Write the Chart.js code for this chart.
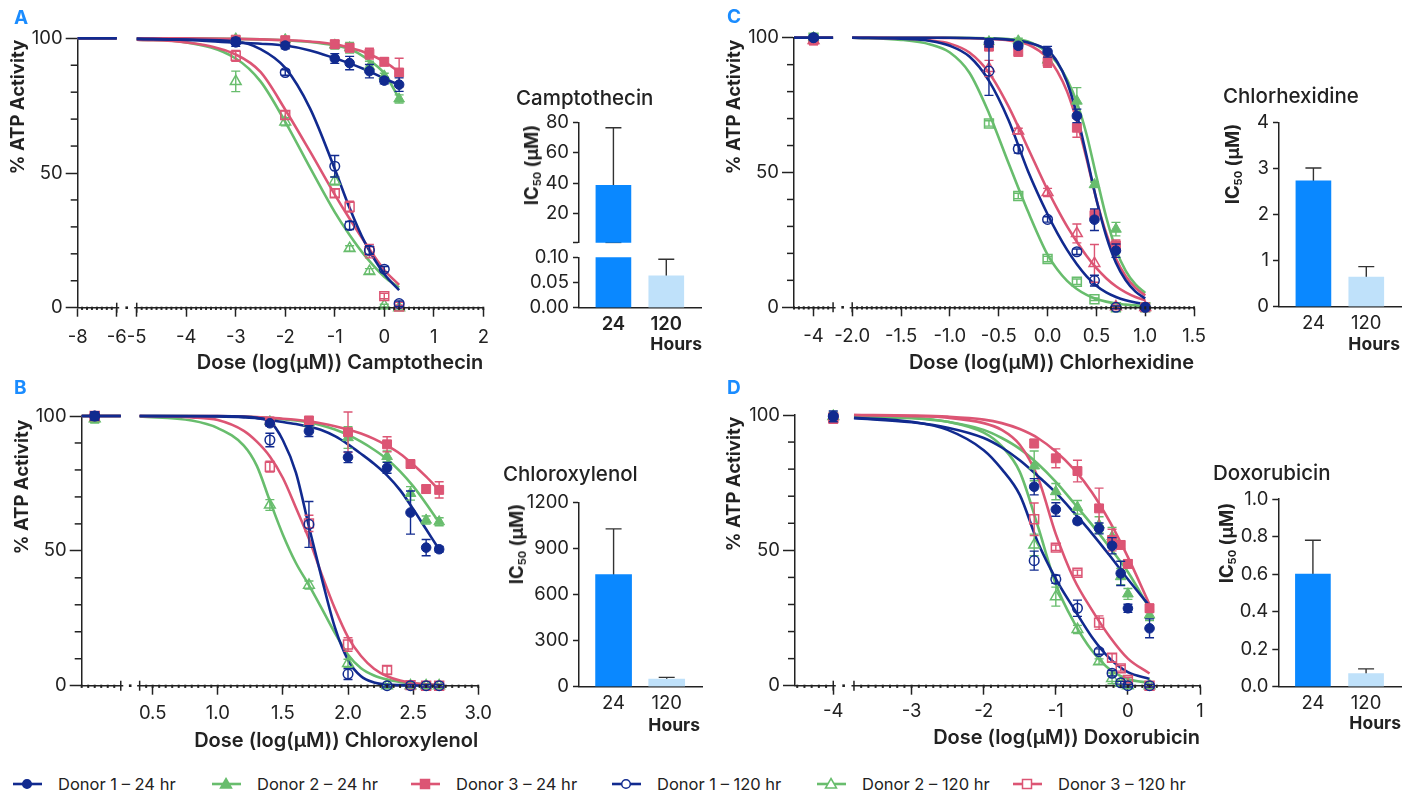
<!DOCTYPE html>
<html>
<head>
<meta charset="utf-8">
<script src="https://cdn.jsdelivr.net/npm/chart.js@4.4.1/dist/chart.umd.min.js"></script>
<style>
  html, body { margin: 0; padding: 0; background: #fff; }
  body { width: 1416px; height: 795px; position: relative; overflow: hidden;
         font-family: Inter, 'DejaVu Sans', sans-serif; color: #222; }
  canvas { position: absolute; }
  .t { position: absolute; white-space: nowrap; z-index: 2; }
  .letter { font-weight: 700; font-size: 19px; color: #1a8cff; }
  .ytitle { transform: translate(-50%, -50%) rotate(-90deg); font-weight: 700; font-size: 18.5px; }
  .btitle { transform: translateY(-50%); font-size: 20.5px; font-weight: 500; }
  .hours { transform: translate(-100%, -50%); font-size: 17.5px; font-weight: 700; }
  .ic sub { font-size: 11px; vertical-align: -3px; }
  .legend { position: absolute; top: 774px; left: 0; height: 20px; }
  .legend .item { position: absolute; top: 0; display: flex; align-items: center; font-size: 16.5px;
                  height: 20px; white-space: nowrap; }
  .legend svg { margin-right: 16px; flex-shrink: 0; }
</style>
</head>
<body>

<div class="t letter" style="left:14px;top:6px">A</div>
<div class="t letter" style="left:727px;top:5px">C</div>
<div class="t letter" style="left:14px;top:376px">B</div>
<div class="t letter" style="left:727px;top:376px">D</div>

<div class="t ytitle" style="left:17px;top:107px">% ATP Activity</div>
<div class="t ytitle" style="left:733px;top:107px">% ATP Activity</div>
<div class="t ytitle" style="left:21px;top:487px">% ATP Activity</div>
<div class="t ytitle" style="left:733px;top:484px">% ATP Activity</div>

<div class="t btitle" style="left:516px;top:97px">Camptothecin</div>
<div class="t btitle" style="left:1223px;top:95px">Chlorhexidine</div>
<div class="t btitle" style="left:503px;top:473px">Chloroxylenol</div>
<div class="t btitle" style="left:1213px;top:472px">Doxorubicin</div>

<div class="t ytitle ic" style="left:532px;top:165px">IC<sub>50</sub> (µM)</div>
<div class="t ytitle ic" style="left:1233px;top:164px">IC<sub>50</sub> (µM)</div>
<div class="t ytitle ic" style="left:517px;top:544px">IC<sub>50</sub> (µM)</div>
<div class="t ytitle ic" style="left:1227px;top:543px">IC<sub>50</sub> (µM)</div>

<div class="t hours" style="left:702px;top:343px">Hours</div>
<div class="t hours" style="left:1400px;top:343px">Hours</div>
<div class="t hours" style="left:700px;top:724px">Hours</div>
<div class="t hours" style="left:1401px;top:722px">Hours</div>

<div class="legend" id="legend"></div>

<script>
// ---- series (legend order) ----
const seriesLabels = ['Donor 1 – 24 hr', 'Donor 2 – 24 hr', 'Donor 3 – 24 hr',
                      'Donor 1 – 120 hr', 'Donor 2 – 120 hr', 'Donor 3 – 120 hr'];

// ---- A: Camptothecin ----
const doseA = [-3, -2, -1, -0.7, -0.3, 0, 0.3];
const meanA = [
  [98.5, 97.3, 92.5, 90.8, 87.8, 84.3, 82.8],
  [99.8, 99.5, 97.5, 96.5, 89.5, 86, 77.5],
  [99.5, 99.3, 97.8, 96.5, 94.3, 91.3, 87.3],
  [98.8, 87.3, 52.5, 30.5, 21.3, 14.3, 1.5],
  [84, 69, 47, 22, 13.5, 0.8, 0],
  [93.5, 71.5, 42.5, 37.5, 21, 4.3, 0.4]
];
const errA = [
  [1.5, 1.2, 1.8, 2.5, 2.5, 1.2, 2.5],
  [1, 1, 1.5, 2, 2, 1, 1.5],
  [1, 1, 1.5, 1.5, 2, 1.5, 5.3],
  [1, 1, 4, 1.5, 1.5, 1, 1],
  [3.8, 1.5, 1.5, 1, 1, 0.5, 0.5],
  [2, 1.5, 1.5, 2, 2.5, 1, 0.5]
];
const fitXA = [-5, -4, -3, -2.5, -2, -1.5, -1, -0.7, -0.4, 0, 0.3];
const fitA = [
  [99.8, 99.4, 98.4, 98, 97.3, 95.5, 92.6, 90.7, 88.5, 85.1, 82.7],
  [100, 100, 99.8, 99.6, 99.3, 98.6, 97.3, 96, 93, 87, 77.7],
  [100, 100, 99.8, 99.6, 99.3, 98.8, 97.8, 96.5, 94.8, 91.3, 87.5],
  [99.8, 99.5, 98.8, 96, 89, 74, 51.5, 37, 24.5, 12.5, 6.5],
  [99.5, 98.5, 92.5, 84, 69, 52, 35.5, 27, 19.5, 11.5, 7.5],
  [99.5, 98.5, 94, 87.5, 73.5, 58, 42, 33, 24.5, 14, 8.5]
];
const flatA = [-8, -6];
const xTicksA = [-8, -6, -5, -4, -3, -2, -1, 0, 1, 2];
const xLabelsA = ['-8', '-6', '-5', '-4', '-3', '-2', '-1', '0', '1', '2'];

// ---- B: Chloroxylenol ----
const doseB = [0.1, 1.4, 1.7, 2.0, 2.3, 2.48, 2.6, 2.7];
const meanB = [
  [100, 97.3, 94.4, 84.7, 80.8, 64.2, 51.2, 50.6],
  [99, 97.9, 97.5, 92, 85, 71.3, 61.4, 60.8],
  [100, 98, 98.3, 94, 89.5, 82.2, 72.9, 72.6],
  [100, 91.1, 59.8, 4.3, 0, 0, 0, 0],
  [99, 67, 37.3, 8.3, 0, 0, 0, 0],
  [100, 81.2, 60.2, 15.3, 5.8, 0.2, 0, 0]
];
const errB = [
  [1.5, 1, 2, 2, 2, 8, 3, 1],
  [1.5, 1, 2, 4, 2, 2.5, 1.5, 1.5],
  [1, 1, 1.5, 7.5, 2.8, 1.5, 1.5, 3],
  [1.5, 2.5, 8.5, 2, 0.5, 0.5, 0.5, 0.5],
  [1.5, 2, 1.5, 1.5, 0.5, 0.5, 0.5, 0.5],
  [1, 2, 3, 2.5, 1.5, 0.5, 0.5, 0.5]
];
const fitXB = [0.4, 0.8, 1.0, 1.2, 1.3, 1.4, 1.5, 1.6, 1.7, 1.8, 1.9, 2.0, 2.1, 2.2, 2.3, 2.4, 2.5, 2.6, 2.7];
const fitB = [
  [100, 99.9, 99.8, 99.5, 99.2, 98.5, 97.8, 97, 96, 94.7, 92.5, 89.5, 86, 82.3, 78, 72.5, 65.5, 58, 50.5],
  [100, 100, 99.9, 99.7, 99.5, 99.2, 98.8, 98.3, 97.6, 96.5, 95, 93, 90.5, 87.5, 84, 79.5, 74, 67.5, 60.5],
  [100, 100, 100, 99.8, 99.6, 99.3, 99, 98.6, 98, 97.2, 96.2, 95, 93.5, 91.5, 89, 86, 82, 77.5, 72.5],
  [100, 100, 100, 99.8, 99.3, 98, 91, 79, 59, 39.5, 21.5, 9.5, 3.5, 1.2, 0.4, 0.2, 0.1, 0, 0],
  [99.8, 98.3, 95.5, 89, 81.5, 68.5, 56, 45.5, 37.3, 28.5, 19.5, 11.5, 6.5, 3.8, 2.3, 1.4, 0.8, 0.5, 0.3],
  [100, 99.5, 98.5, 94.5, 90.5, 85, 77, 66, 54.5, 41, 28.5, 18, 11, 6.3, 3.5, 1.9, 1, 0.5, 0.3]
];
const flatB = [0, 0.3];
const xTicksB = [0.5, 1.0, 1.5, 2.0, 2.5, 3.0];
const xLabelsB = ['0.5', '1.0', '1.5', '2.0', '2.5', '3.0'];

// ---- C: Chlorhexidine ----
const doseC = [-4, -0.6, -0.3, 0, 0.3, 0.48, 0.7, 1.0];
const meanC = [
  [100, 98.1, 97, 94.8, 71, 32.5, 21, 0],
  [100, 98.5, 98.8, 91.7, 76.5, 45.5, 29, 0],
  [99, 96.7, 94.7, 91, 66.6, 34.2, 23, 0],
  [100, 87.6, 58.7, 32.6, 20.6, 9.9, 0, 0],
  [100, 68.2, 41.3, 17.9, 9.5, 3, 0, 0],
  [99, 88.6, 65.4, 42.6, 27.4, 16.3, 0.2, 0]
];
const errC = [
  [1, 1.5, 1, 2, 2.5, 4, 2.5, 0.5],
  [1, 1.5, 1, 2, 5, 1, 2.5, 0.5],
  [1.5, 1.5, 1, 2, 3.5, 2, 2, 0.5],
  [0.5, 9, 1.5, 1, 1, 2, 0.5, 0.5],
  [0.5, 1, 1, 1, 1, 0.5, 0.5, 0.5],
  [1.5, 3, 1, 1.5, 3.5, 7, 0.5, 0.5]
];
const fitXC = [-2, -1.5, -1.2, -1, -0.8, -0.6, -0.4, -0.2, 0, 0.1, 0.2, 0.3, 0.4, 0.5, 0.6, 0.7, 0.8, 0.9, 1.0];
const fitC = [
  [100, 100, 100, 100, 99.9, 99.7, 99.3, 98.2, 95.3, 91, 83.5, 71.5, 56, 40, 26.5, 16.5, 10, 5.8, 3.3],
  [100, 100, 100, 100, 99.9, 99.8, 99.5, 98.6, 94.5, 90.5, 84.5, 76, 64, 48.5, 33.5, 21.5, 13.5, 8.5, 5.3],
  [100, 100, 100, 99.9, 99.8, 99.5, 99, 97.5, 92.5, 87.5, 80, 69, 55, 40, 27.5, 18, 11.5, 7.2, 4.4],
  [100, 99.6, 98.8, 97, 93, 84, 69.5, 50.5, 34.5, 27.5, 21.3, 16, 11.5, 8, 5.5, 3.8, 2.6, 1.8, 1.2],
  [100, 99.2, 97.5, 94.5, 87, 72, 53.5, 35.5, 19.5, 14, 9.8, 6.8, 4.6, 3.1, 2.1, 1.4, 1, 0.7, 0.5],
  [100, 99.7, 99, 97.8, 94.5, 87, 74.5, 59, 43.5, 36.5, 30, 24.3, 19, 14.5, 10.8, 7.8, 5.5, 3.8, 2.6]
];
const flatC = [-5, -3];
const xTicksC = [-4, -2, -1.5, -1, -0.5, 0, 0.5, 1, 1.5];
const xLabelsC = ['-4', '-2.0', '-1.5', '-1.0', '-0.5', '0.0', '0.5', '1.0', '1.5'];

// ---- D: Doxorubicin ----
const doseD = [-4, -1.3, -1, -0.7, -0.4, -0.22, -0.1, 0, 0.3];
const meanD = [
  [99.5, 73.5, 65.1, 60.8, 58.1, 51.7, 41.5, 28.6, 21.2],
  [99.5, 81.2, 71.7, 65.9, 59.4, 55, 40.3, 33.9, 26.1],
  [98.5, 89.5, 84, 79.3, 65.5, 53.8, 52, 45, 28.6],
  [99.5, 46.2, 39.3, 28.6, 12.6, 4.6, 1.1, 0, 0],
  [99.5, 52, 32.9, 20.8, 8.9, 2.7, 0.9, 0, 0],
  [99, 61.5, 51, 41.7, 23.3, 10.3, 6.4, 2.1, 0]
];
const errD = [
  [2, 3, 2.5, 1, 2, 3, 4.5, 1.5, 3.5],
  [1.5, 5.5, 3, 2.5, 3, 3.5, 3, 2, 2],
  [1.5, 1.5, 3.5, 4, 7.5, 4, 1.5, 1.5, 1.5],
  [1, 3.5, 1.5, 3, 1, 1, 0.5, 0.5, 0.5],
  [1, 4, 3.5, 1.5, 1, 2, 1, 0.5, 0.5],
  [1.5, 6, 1, 1, 2.5, 1.5, 1, 1, 0.5]
];
const fitXD = [-3.8, -3, -2.5, -2, -1.75, -1.5, -1.25, -1, -0.75, -0.5, -0.25, 0, 0.3];
const fitD = [
  [98.8, 97.3, 95.3, 91.5, 88, 83.3, 77.5, 71.3, 64, 56.3, 48, 39.3, 29.5],
  [99.5, 98.8, 97.5, 94.5, 91.5, 87.5, 82, 75.3, 67.5, 59.5, 51, 42, 28.5],
  [100, 99.8, 99.4, 98.3, 97, 94.8, 91.5, 86.5, 80, 71.5, 60.5, 47.5, 30],
  [99, 97.5, 94.5, 87, 80, 70.5, 53, 39.5, 28.5, 18, 10, 5, 2.5],
  [99.5, 99, 97.5, 93.5, 88.5, 79, 59, 37.5, 23.5, 13, 6, 2.5, 1],
  [100, 99.6, 99, 97, 94.5, 89, 77, 56, 39.5, 28, 18, 10, 4.5]
];
const xTicksD = [-4, -3, -2, -1, 0, 1];
const xLabelsD = ['-4', '-3', '-2', '-1', '0', '1'];

const yTicksCurve = [0, 50, 100];
const plateau = 100;

// ---- IC50 bars (24 hr, 120 hr) ----
const hourLabels = ['24', '120'];
const ic50A = [38.7, 0.063], ic50ErrA = [37.7, 0.033];
const ic50B = [730, 50],     ic50ErrB = [297, 11];
const ic50C = [2.73, 0.64],  ic50ErrC = [0.28, 0.23];
const ic50D = [0.60, 0.07],  ic50ErrD = [0.18, 0.025];
const barTicksAhi = [1, 20, 40, 60, 80],  barLabelsAhi = ['', '20', '40', '60', '80'];
const barTicksAlo = [0, 0.05, 0.1],       barLabelsAlo = ['0.00', '0.05', '0.10'];
const barTicksB = [0, 300, 600, 900, 1200], barLabelsB = ['0', '300', '600', '900', '1200'];
const barTicksC = [0, 1, 2, 3, 4],          barLabelsC = ['0', '1', '2', '3', '4'];
const barTicksD = [0, 0.2, 0.4, 0.6, 0.8, 1.0], barLabelsD = ['0.0', '0.2', '0.4', '0.6', '0.8', '1.0'];

// ---- styles ----
const NAVY = '#112a8f', GREEN = '#68bd6d', PINK = '#dc5574';
const BAR24 = '#0a88ff', BAR120 = '#bfe1fa', INK = '#222';
const seriesColor = [NAVY, GREEN, PINK, NAVY, GREEN, PINK];
const seriesShape = ['circle', 'triangle', 'rect', 'circle', 'triangle', 'rect'];
const seriesOpen  = [false, false, false, true, true, true];
const seriesOrder = [0, 4, 2, 1, 5, 3];
const shapeRadius = { circle: 4.8, triangle: 6.2, rect: 6.3 };
const TICK_FONT = 18.5;

Chart.defaults.font.family = "Inter, 'DejaVu Sans', sans-serif";
Chart.defaults.color = INK;
Chart.defaults.animation = false;

// error bars drawn just under each dataset's marks
const errorBars = {
  id: 'errorBars',
  beforeDatasetDraw(chart, args, opts) {
    const ds = chart.data.datasets[args.index];
    if (!ds.errors) return;
    const { ctx, chartArea: a } = chart;
    const ys = chart.scales.y;
    ctx.save();
    if (opts.clip) {
      ctx.beginPath();
      ctx.rect(a.left - 20, a.top - 1, a.width + 40, a.height + 1.5);
      ctx.clip();
    }
    ctx.strokeStyle = opts.color || ds.borderColor;
    ctx.lineWidth = opts.width || 1.4;
    args.meta.data.forEach((el, i) => {
      const e = ds.errors[i];
      if (!e) return;
      const v = ds.data[i].y;
      if (opts.clip && (v + e < ys.min || v - e > ys.max)) return;
      const hi = ys.getPixelForValue(v + e), lo = ys.getPixelForValue(v - e);
      const c = opts.cap || 4.5;
      ctx.beginPath();
      ctx.moveTo(el.x, hi); ctx.lineTo(el.x, lo);
      ctx.moveTo(el.x - c, hi); ctx.lineTo(el.x + c, hi);
      ctx.moveTo(el.x - c, lo); ctx.lineTo(el.x + c, lo);
      ctx.stroke();
    });
    ctx.restore();
  }
};

// minor ticks + axis break marks on the dose axis
const axisDecor = {
  id: 'axisDecor',
  afterDraw(chart, args, o) {
    if (!o || !o.on) return;
    const { ctx, chartArea: a } = chart;
    const xs = chart.scales.x, ys = chart.scales.y;
    ctx.save();
    ctx.strokeStyle = INK; ctx.fillStyle = INK; ctx.lineWidth = 1.5;
    for (let v = 10; v < 100; v += 10) {
      if (v === 50) continue;
      const py = ys.getPixelForValue(v);
      ctx.beginPath(); ctx.moveTo(a.left - 7, py); ctx.lineTo(a.left, py); ctx.stroke();
    }
    const pxL = xs.getPixelForValue(o.left), pxR = xs.getPixelForValue(o.right);
    for (let i = 1; o.right + i * o.step <= xs.max + 1e-9; i++) {
      const px = xs.getPixelForValue(o.right + i * o.step);
      ctx.fillRect(px - 1, a.bottom - 1, 2, 3.2);
    }
    for (let i = 1; o.left - i * o.step >= xs.min - 1e-9; i++) {
      const px = xs.getPixelForValue(o.left - i * o.step);
      ctx.fillRect(px - 1, a.bottom - 1, 2, 3.2);
    }
    ctx.fillStyle = '#fff';
    ctx.fillRect(pxL + 2.5, a.bottom - 2, pxR - pxL - 5, 4);
    ctx.fillStyle = INK;
    [pxL, pxR].forEach(px => {
      ctx.beginPath(); ctx.moveTo(px, a.bottom - 5); ctx.lineTo(px, a.bottom + 5); ctx.stroke();
    });
    const mid = (pxL + pxR) / 2;
    ctx.fillRect(mid - 1.3, a.bottom - 1.3, 2.6, 2.6);
    ctx.restore();
  }
};

function addCanvas(left, top, w, h) {
  const cv = document.createElement('canvas');
  cv.width = w; cv.height = h;
  cv.style.left = left + 'px'; cv.style.top = top + 'px';
  cv.style.width = w + 'px'; cv.style.height = h + 'px';
  document.body.appendChild(cv);
  return cv;
}

function curveChart(p) {
  // broken dose axis: left part squeezed by k, then a gap before p.R
  const tx = v => v >= p.R ? v : p.R - p.gap - (p.L - v) * p.k;
  const cv = addCanvas(p.left, p.top, p.w, p.h);
  const datasets = [];
  seriesLabels.forEach((label, i) => {
    const shape = (p.shapes && p.shapes[i]) || seriesShape[i];
    const line = [];
    if (p.flat) {
      p.flat.forEach(x => line.push({ x: tx(x), y: plateau }));
      line.push({ x: (tx(p.L) + p.R) / 2, y: null });
    }
    p.fitX.forEach((x, j) => line.push({ x: tx(x), y: p.fit[i][j] }));
    datasets.push({
      type: 'line', label, data: line, borderColor: seriesColor[i], borderWidth: 2.6,
      pointRadius: 0, cubicInterpolationMode: 'monotone', spanGaps: false, fill: false,
      clip: false, order: 10 + seriesOrder[i]
    });
    datasets.push({
      type: 'scatter', label, data: p.dose.map((d, j) => ({ x: tx(d), y: p.mean[i][j] })),
      errors: p.err[i], pointStyle: shape, pointRadius: shapeRadius[shape],
      backgroundColor: seriesOpen[i] ? 'rgba(255,255,255,0)' : seriesColor[i],
      borderColor: seriesColor[i], borderWidth: seriesOpen[i] ? 1.5 : 1,
      clip: false, order: seriesOrder[i]
    });
  });
  new Chart(cv, {
    type: 'scatter',
    data: { datasets },
    options: {
      responsive: false, animation: false, events: [],
      layout: { padding: { top: p.padTop, right: p.padRight, left: 0, bottom: 0 } },
      plugins: {
        legend: { display: false }, tooltip: { enabled: false },
        errorBars: { cap: 4.5, width: 1.4 },
        axisDecor: { on: true, left: tx(p.L), right: p.R, step: p.minor }
      },
      scales: {
        x: {
          type: 'linear', min: tx(p.xTicks[0] < p.flatMin ? p.xTicks[0] : p.flatMin), max: p.xMax,
          afterBuildTicks: s => { s.ticks = p.xTicks.map(v => ({ value: tx(v) })); },
          afterFit: s => { s.height = p.axisH; },
          ticks: { callback: (v, i) => p.xLabels[i], font: { size: TICK_FONT }, padding: p.tickPad,
                   maxRotation: 0, autoSkip: false },
          grid: { drawOnChartArea: false, tickLength: 9, tickWidth: 1.5, tickColor: INK },
          border: { color: INK, width: 1.5 },
          title: { display: true, text: p.xTitle, align: 'end', color: INK,
                   font: { size: 20, weight: '600' }, padding: { top: 0, bottom: p.titlePad } }
        },
        y: {
          min: 0, max: 100,
          afterBuildTicks: s => { s.ticks = yTicksCurve.map(v => ({ value: v })); },
          afterFit: s => { s.width = p.axisW; },
          ticks: { font: { size: TICK_FONT }, padding: 3 },
          grid: { drawOnChartArea: false, tickLength: 12, tickWidth: 1.5, tickColor: INK },
          border: { color: INK, width: 1.5 }
        }
      }
    },
    plugins: [errorBars, axisDecor]
  });
}

function barChart(b) {
  const cv = addCanvas(b.left, b.top, b.w, b.h);
  const colors = [BAR24, BAR120];
  new Chart(cv, {
    type: 'bar',
    data: { datasets: [{
      data: b.vals.map((v, i) => ({ x: i, y: v })), errors: b.errs,
      // a bar lying wholly below this axis segment is not shown on it
      backgroundColor: c => (c.raw && c.raw.y < b.min) ? 'rgba(0,0,0,0)' : colors[c.dataIndex],
      borderWidth: 0, barThickness: b.barW
    }] },
    options: {
      responsive: false, animation: false, events: [],
      layout: { padding: { top: b.padTop, right: b.padRight, left: 0, bottom: b.padBottom || 0 } },
      plugins: {
        legend: { display: false }, tooltip: { enabled: false },
        errorBars: { color: '#333', width: 1.4, cap: 8, clip: true }
      },
      scales: {
        x: {
          type: 'linear', display: b.showX, offset: false, min: -0.651, max: 1.67,
          afterBuildTicks: s => { s.ticks = [0, 1].map(v => ({ value: v })); },
          afterFit: s => { s.height = b.axisH; },
          ticks: { callback: (v, i) => hourLabels[i], padding: -2,
                   font: { size: TICK_FONT, weight: b.boldX ? '600' : 'normal' } },
          grid: { display: false },
          border: { color: INK, width: 1.5 }
        },
        y: {
          min: b.min, max: b.max,
          afterBuildTicks: s => { s.ticks = b.ticks.map(v => ({ value: v })); },
          afterFit: s => { s.width = b.axisW; },
          ticks: { callback: (v, i) => b.labels[i], font: { size: TICK_FONT }, padding: 4 },
          grid: { drawOnChartArea: false, tickLength: 6, tickWidth: 1.5, tickColor: INK },
          border: { color: INK, width: 1.5 }
        }
      }
    },
    plugins: [errorBars]
  });
}

// ---- dose-response panels ----
curveChart({ left: 0, top: 0, w: 500, h: 375, padTop: 38.3, padRight: 16.7, axisW: 77.7, axisH: 67.3,
  tickPad: 10, titlePad: 0.5, R: -5, L: -6, gap: 0.404, k: 0.394, flatMin: -8, xMax: 2, minor: 0.1,
  dose: doseA, mean: meanA, err: errA, fitX: fitXA, fit: fitA, flat: flatA,
  xTicks: xTicksA, xLabels: xLabelsA, xTitle: 'Dose (log(µM)) Camptothecin' });

curveChart({ left: 715, top: 0, w: 500, h: 375, padTop: 37.7, padRight: 15, axisW: 79, axisH: 67.7,
  tickPad: 9, titlePad: 0.5, R: -2, L: -3, gap: 0.196, k: 0.2, flatMin: -5, xMax: 1.5, minor: 0.05,
  dose: doseC, mean: meanC, err: errC, fitX: fitXC, fit: fitC, flat: flatC,
  shapes: { 4: 'rect', 5: 'triangle' },
  xTicks: xTicksC, xLabels: xLabelsC, xTitle: 'Dose (log(µM)) Chlorhexidine' });

curveChart({ left: 0, top: 385, w: 500, h: 375, padTop: 31, padRight: 12.3, axisW: 81.7, axisH: 74.3,
  tickPad: 8, titlePad: 7, R: 0.4, L: 0.3, gap: 0.145, k: 1, flatMin: 0, xMax: 3.0, minor: 0.05,
  dose: doseB, mean: meanB, err: errB, fitX: fitXB, fit: fitB, flat: flatB,
  xTicks: xTicksB, xLabels: xLabelsB, xTitle: 'Dose (log(µM)) Chloroxylenol' });

curveChart({ left: 715, top: 385, w: 500, h: 375, padTop: 30, padRight: 15, axisW: 80, axisH: 74.3,
  tickPad: 6, titlePad: 10.5, R: -3.8, L: -4, gap: 0.287, k: 0.531, flatMin: -5, xMax: 1, minor: 0.1,
  dose: doseD, mean: meanD, err: errD, fitX: fitXD, fit: fitD, flat: null,
  xTicks: xTicksD, xLabels: xLabelsD, xTitle: 'Dose (log(µM)) Doxorubicin' });

// ---- IC50 panels ----
barChart({ left: 500, top: 90, w: 215, h: 170, padTop: 32.3, padRight: 13.3, padBottom: 17.3, axisW: 79,
  axisH: 0, showX: false, barW: 35, min: 1, max: 80, ticks: barTicksAhi, labels: barLabelsAhi,
  vals: ic50A, errs: ic50ErrA });
barChart({ left: 500, top: 240, w: 215, h: 120, padTop: 17.3, padRight: 13.3, axisW: 79, axisH: 52.3,
  showX: true, boldX: true, barW: 35, min: 0, max: 0.1, ticks: barTicksAlo, labels: barLabelsAlo,
  vals: ic50A, errs: ic50ErrA });
barChart({ left: 1200, top: 100, w: 216, h: 260, padTop: 22.3, padRight: 14.3, axisW: 79, axisH: 53.3,
  showX: true, barW: 35, min: 0, max: 4, ticks: barTicksC, labels: barLabelsC,
  vals: ic50C, errs: ic50ErrC });
barChart({ left: 490, top: 480, w: 230, h: 280, padTop: 22.3, padRight: 17.7, axisW: 89, axisH: 73.3,
  showX: true, barW: 36, min: 0, max: 1200, ticks: barTicksB, labels: barLabelsB,
  vals: ic50B, errs: ic50ErrB });
barChart({ left: 1200, top: 480, w: 216, h: 280, padTop: 19, padRight: 14.3, axisW: 78.3, axisH: 73.3,
  showX: true, barW: 35, min: 0, max: 1.0, ticks: barTicksD, labels: barLabelsD,
  vals: ic50D, errs: ic50ErrD });

// ---- legend ----
const legendX = [13, 212, 411, 612, 817, 1013];
const legend = document.getElementById('legend');
seriesLabels.forEach((label, i) => {
  const c = seriesColor[i], fill = seriesOpen[i] ? '#fff' : c;
  let mark;
  if (seriesShape[i] === 'circle') mark = `<circle cx="14" cy="10" r="4.3" fill="${fill}" stroke="${c}" stroke-width="1.5"/>`;
  else if (seriesShape[i] === 'triangle') mark = `<polygon points="14,4.5 19.5,14 8.5,14" fill="${fill}" stroke="${c}" stroke-width="1.5"/>`;
  else mark = `<rect x="9.5" y="5.5" width="9" height="9" fill="${fill}" stroke="${c}" stroke-width="1.5"/>`;
  const item = document.createElement('div');
  item.className = 'item';
  item.style.left = legendX[i] + 'px';
  item.innerHTML = `<svg width="29" height="20"><line x1="0" y1="10" x2="29" y2="10" stroke="${c}" stroke-width="2.6"/>${mark}</svg><span>${label}</span>`;
  legend.appendChild(item);
});
</script>
</body>
</html>
